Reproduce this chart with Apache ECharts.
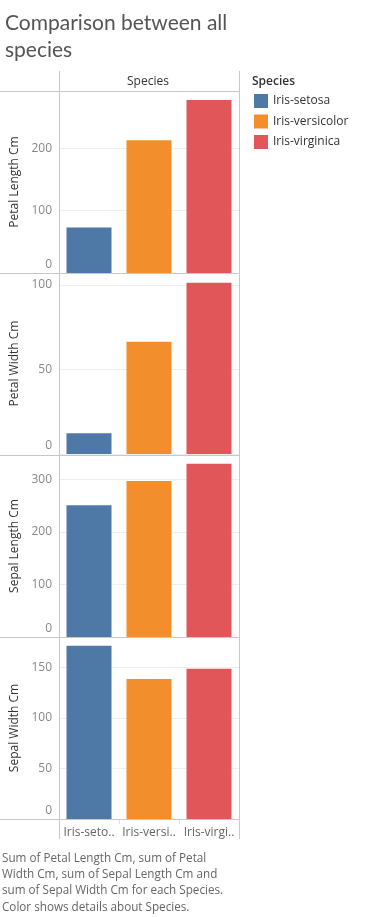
<!DOCTYPE html>
<html><head><meta charset="utf-8">
<script src="https://cdn.jsdelivr.net/npm/echarts@6/dist/echarts.min.js"></script>
<style>html,body{margin:0;padding:0;background:#fff}#c{width:391px;height:917px}</style>
</head><body><div id="c"></div>
<script>
const species = ['Iris-setosa', 'Iris-versicolor', 'Iris-virginica'];
const colors = ['#4e79a7', '#f28e2b', '#e15759'];
const measures = ['Petal Length Cm', 'Petal Width Cm', 'Sepal Length Cm', 'Sepal Width Cm'];
const petalLength = [73.2, 213.0, 277.6];
const petalWidth = [12.2, 66.3, 101.3];
const sepalLength = [250.3, 296.8, 329.4];
const sepalWidth = [171.4, 138.5, 148.7];
const axisMax = [292, 107, 346, 180];
const axisInterval = [100, 50, 100, 50];
const values = [petalLength, petalWidth, sepalLength, sepalWidth];

const FONT = '"Open Sans"';
const TFONT = 'Lato';
const panelTops = [91, 273, 455, 637];
const panelH = [182, 181, 182, 182];
const grids = [], xAxes = [], yAxes = [], series = [];
for (let g = 0; g < 4; g++) {
  grids.push({left: 59, width: 180, top: panelTops[g], height: panelH[g]});
  xAxes.push({
    type: 'category', gridIndex: g, data: species,
    axisLine: {show: false}, axisTick: {show: false},
    axisLabel: {show: g === 3, interval: 0, color: '#666', fontFamily: FONT, fontSize: 12, margin: 8,
      width: 57, overflow: 'truncate', ellipsis: '..'}
  });
  const iv = axisInterval[g];
  yAxes.push({
    type: 'value', gridIndex: g, min: 0, max: axisMax[g], interval: iv,
    name: measures[g], nameLocation: 'middle', nameGap: 38,
    nameTextStyle: {color: '#333', fontFamily: FONT, fontSize: 12},
    axisLine: {show: false}, axisTick: {show: false},
    splitLine: {lineStyle: {color: '#efefef'}},
    axisLabel: {color: '#888', fontFamily: FONT, fontSize: 12, margin: 7, showMaxLabel: false,
      formatter: v => (v % iv !== 0 ? '' : (v === 0 ? '{z|0}' : String(v))),
      rich: {z: {color: '#888', fontFamily: FONT, fontSize: 12, padding: [0, 0, 16, 0]}}}
  });
  species.forEach((s, i) => {
    series.push({
      type: 'bar', name: s, xAxisIndex: g, yAxisIndex: g,
      barWidth: 45, barGap: '-100%',
      itemStyle: {color: colors[i]},
      data: species.map((_, j) => (j === i ? values[g][i] : '-')),
      silent: true
    });
  });
}

const lines = [];
const hl = y => ({type: 'line', z: 100, shape: {x1: 0, y1: y, x2: 239.5, y2: y}, style: {stroke: '#c8c8c8', lineWidth: 1}});
[91.5, 273.5, 455.5, 637.5, 819.5].forEach(y => lines.push(hl(y)));
lines.push({type: 'line', z: 100, shape: {x1: 59.5, y1: 71, x2: 59.5, y2: 839}, style: {stroke: '#c8c8c8', lineWidth: 1}});
lines.push({type: 'line', z: 100, shape: {x1: 239.5, y1: 71, x2: 239.5, y2: 839}, style: {stroke: '#c8c8c8', lineWidth: 1}});
[119.5, 179.5].forEach(x => lines.push({type: 'line', z: 100, shape: {x1: x, y1: 820, x2: x, y2: 824}, style: {stroke: '#e4e4e4', lineWidth: 1}}));

const chart = echarts.init(document.getElementById('c'));
chart.setOption({
  animation: false,
  title: {text: 'Comparison between all\nspecies', left: 0, top: 5,
    textStyle: {fontFamily: TFONT, fontSize: 21, fontWeight: 'normal', color: '#555', lineHeight: 27}},
  legend: {data: species, orient: 'vertical', left: 249, top: 89, itemWidth: 14, itemHeight: 14, itemGap: 6.5,
    icon: 'rect', selectedMode: false,
    textStyle: {color: '#333', fontFamily: FONT, fontSize: 12}},
  grid: grids, xAxis: xAxes, yAxis: yAxes, series: series,
  graphic: [
    ...lines,
    {type: 'text', left: 127, top: 76, style: {text: 'Species', fill: '#333', font: '12px ' + FONT}},
    {type: 'text', left: 252, top: 76, style: {text: 'Species', fill: '#333', font: '600 12px ' + FONT}},
    {type: 'text', left: 2, top: 850, style: {
      text: 'Sum of Petal Length Cm, sum of Petal\nWidth Cm, sum of Sepal Length Cm and\nsum of Sepal Width Cm for each Species.\nColor shows details about Species.',
      fill: '#666', font: '11.7px ' + FONT, lineHeight: 16.4}}
  ]
});
</script></body></html>
